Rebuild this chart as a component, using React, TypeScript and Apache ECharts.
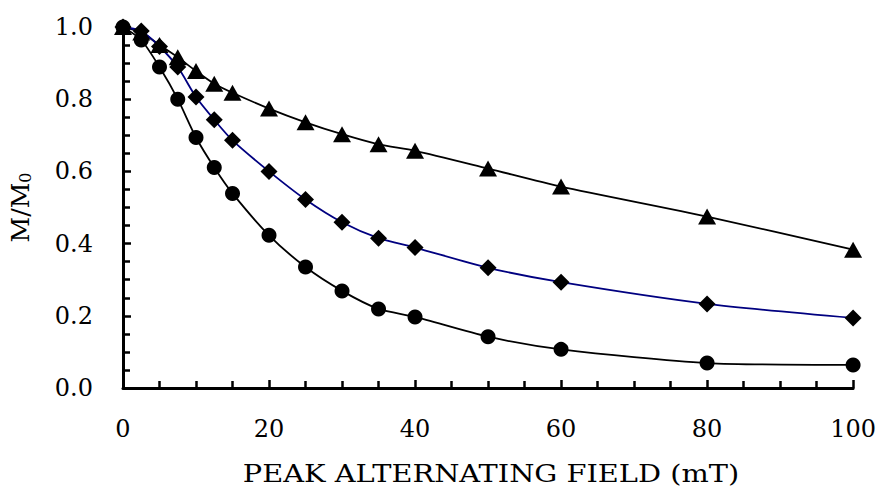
import React, { useEffect, useRef } from "react";
import * as echarts from "echarts";

const fields = [0, 2.5, 5, 7.5, 10, 12.5, 15, 20, 25, 30, 35, 40, 50, 60, 80, 100];
const triangleValues = [1.0, 0.985, 0.95, 0.916, 0.878, 0.843, 0.818, 0.774, 0.736, 0.703, 0.675, 0.657, 0.608, 0.558, 0.475, 0.383];
const diamondValues = [1.0, 0.989, 0.946, 0.889, 0.806, 0.743, 0.686, 0.6, 0.522, 0.459, 0.415, 0.389, 0.333, 0.293, 0.233, 0.194];
const circleValues = [1.0, 0.964, 0.889, 0.8, 0.694, 0.611, 0.539, 0.423, 0.335, 0.269, 0.219, 0.197, 0.142, 0.107, 0.069, 0.064];
const xTicks = [0, 20, 40, 60, 80, 100];
const yTicks = [0, 0.2, 0.4, 0.6, 0.8, 1.0];
const xTitle = "PEAK ALTERNATING FIELD (mT)";

const FONT = "DejaVu Serif";

function pairs(values: number[]) {
  return fields.map((f, i) => [f, values[i]]);
}

export default function App() {
  const ref = useRef<HTMLDivElement>(null);
  useEffect(() => {
    if (!ref.current) return;
    const chart = echarts.init(ref.current, undefined, { renderer: "svg" });
    const axisCommon = {
      axisLine: { show: true, lineStyle: { color: "#000", width: 3 } },
      axisTick: { show: true, inside: true, length: 8, lineStyle: { color: "#000", width: 2.5 } },
      minorTick: { show: true, splitNumber: 4, length: 7, lineStyle: { color: "#000", width: 2.5 } },
      splitLine: { show: false },
      minorSplitLine: { show: false },
    };
    const lineCommon = { smooth: 0.25 };
    chart.setOption({
      animation: false,
      backgroundColor: "#fff",
      grid: { left: 122, right: 25, top: 27, bottom: 98, containLabel: false },
      graphic: [
        {
          type: "text",
          x: 491,
          y: 473,
          scaleX: 1.2,
          style: {
            text: xTitle,
            fontFamily: FONT,
            fontSize: 24,
            fill: "#000",
            align: "center",
            verticalAlign: "middle",
          },
        },
      ],
      xAxis: {
        type: "value",
        min: xTicks[0],
        max: xTicks[xTicks.length - 1],
        interval: 20,
        ...axisCommon,
        axisLabel: { margin: 29, fontFamily: FONT, fontSize: 24, color: "#000" },
      },
      yAxis: {
        type: "value",
        min: yTicks[0],
        max: yTicks[yTicks.length - 1],
        interval: 0.2,
        ...axisCommon,
        axisLabel: {
          margin: 30,
          fontFamily: FONT,
          fontSize: 24,
          color: "#000",
          formatter: (v: number) => v.toFixed(1),
        },
        name: "{m|M/M}{s|0}",
        nameLocation: "middle",
        nameGap: 90,
        nameRotate: 90,
        nameTextStyle: {
          fontFamily: FONT,
          color: "#000",
          rich: {
            m: { fontFamily: FONT, fontSize: 25, color: "#000" },
            s: { fontFamily: FONT, fontSize: 16, color: "#000", verticalAlign: "bottom", padding: [6, 0, 0, 0] },
          },
        },
      },
      series: [
        {
          type: "line",
          data: pairs(triangleValues),
          ...lineCommon,
          symbol: "triangle",
          symbolSize: [18, 16],
          lineStyle: { color: "#000", width: 1.8 },
          itemStyle: { color: "#000", borderWidth: 0 },
        },
        {
          type: "line",
          data: pairs(diamondValues),
          ...lineCommon,
          symbol: "diamond",
          symbolSize: [17, 17],
          lineStyle: { color: "#000080", width: 1.8 },
          itemStyle: { color: "#000", borderWidth: 0 },
        },
        {
          type: "line",
          data: pairs(circleValues),
          ...lineCommon,
          symbol: "circle",
          symbolSize: 15,
          lineStyle: { color: "#000", width: 1.8 },
          itemStyle: { color: "#000", borderWidth: 0 },
        },
      ],
    });
    return () => chart.dispose();
  }, []);
  return (
    <div
      ref={ref}
      style={{ position: "fixed", left: 0, top: 0, width: 879, height: 486, background: "#fff" }}
    />
  );
}
